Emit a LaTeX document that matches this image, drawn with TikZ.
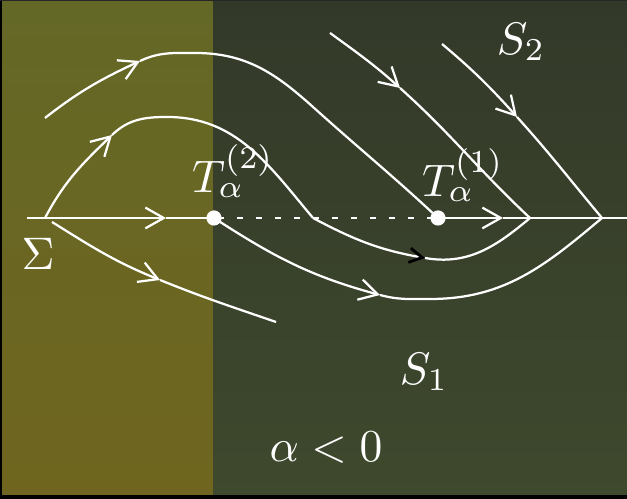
\documentclass[tikz,border=0pt]{standalone}
\usetikzlibrary{arrows.meta}
\definecolor{lefttop}{RGB}{100,104,38}
\definecolor{leftbot}{RGB}{111,101,31}
\definecolor{righttop}{RGB}{51,57,41}
\definecolor{rightbot}{RGB}{62,73,45}
\definecolor{topedge}{RGB}{38,38,38}
\begin{document}
\begin{tikzpicture}[x=0.25pt,y=0.25pt,
  curve/.style={white,line width=0.56pt},
  tip/.style={-{Straight Barb[length=4.6pt,width=5.2pt]}},
  blacktip/.style={-{Straight Barb[length=3.2pt,width=3.6pt,color=black,line width=0.7pt]}},
  dotline/.style={white,line width=0.65pt,dash pattern=on 1.5pt off 3.25pt,dash phase=3.75pt},
  lbl/.style={white,inner sep=0pt,scale=1.14},
  dot/.style={circle,fill=white,draw=none,inner sep=0pt,minimum size=3.8pt}]
\useasboundingbox (0,0) rectangle (627,499);
% background
\shade[top color=lefttop,bottom color=leftbot] (0,0) rectangle (213,499);
\shade[top color=righttop,bottom color=rightbot] (213,0) rectangle (627,499);
\fill[black] (0,0) rectangle (2,499);
\fill[black] (0,0) rectangle (627,3.5);
\fill[topedge] (0,498) rectangle (627,499);
% coordinates
\coordinate (ax0) at (27,281);
\coordinate (ax1) at (627,281);
\coordinate (T2) at (214,281);
\coordinate (T1) at (438,281);
\coordinate (P) at (313,281);
\coordinate (Q) at (530,281);
\coordinate (R) at (602,281);
% axis
\draw[curve,tip] (ax0) -- (166,281);
\draw[curve] (166,281) -- (T2);
\draw[dotline] (T2) -- (T1);
\draw[curve,tip] (T1) -- (503,281);
\draw[curve] (503,281) -- (ax1);
% outer top arc
\draw[curve,tip] (45,381) to[out=38,in=205] (140,438);
\draw[curve] (140,438) to[out=25,in=180] (195,446) to[out=0,in=138] (313,392) to[out=-42,in=137] (T1);
% inner top arc
\draw[curve,tip] (45,281) to[out=62,in=224] (112,364);
\draw[curve] (112,364) to[out=44,in=180] (167,382) to[out=0,in=130] (P);
% lower inner curve
\draw[curve,blacktip] (P) to[out=-28,in=170] (425,241);
\draw[curve] (425,241) to[out=-10,in=220] (Q);
% lower outer curve
\draw[curve,tip] (T2) to[out=-33,in=165] (380,204);
\draw[curve] (380,204) to[out=-15,in=180] (430,200) to[out=0,in=220] (R);
% lower left curve
\draw[curve,tip] (52,277) to[out=-32,in=158] (160,219);
\draw[curve] (160,219) to[out=-22,in=161] (276,177);
% top right lines
\draw[curve,tip] (330,466) to[out=-36,in=138] (400,411);
\draw[curve] (400,411) to[out=-42,in=137] (Q);
\draw[curve,tip] (442,455) to[out=-40,in=132] (517,382);
\draw[curve] (517,382) to[out=-48,in=130] (R);
% dots
\node[dot] (d2) at (T2) {};
\node[dot] (d1) at (T1) {};
% labels
\node[lbl] (l2) at (233,328) {$T_\alpha^{(2)}$};
\node[lbl] (l1) at (463,324) {$T_\alpha^{(1)}$};
\node[lbl] (sig) at (38,245) {$\Sigma$};
\node[lbl] (s2) at (521,457) {$S_2$};
\node[lbl] (s1) at (424,127) {$S_1$};
\node[lbl] (al) at (326,51) {$\alpha<0$};
\end{tikzpicture}
\end{document}
